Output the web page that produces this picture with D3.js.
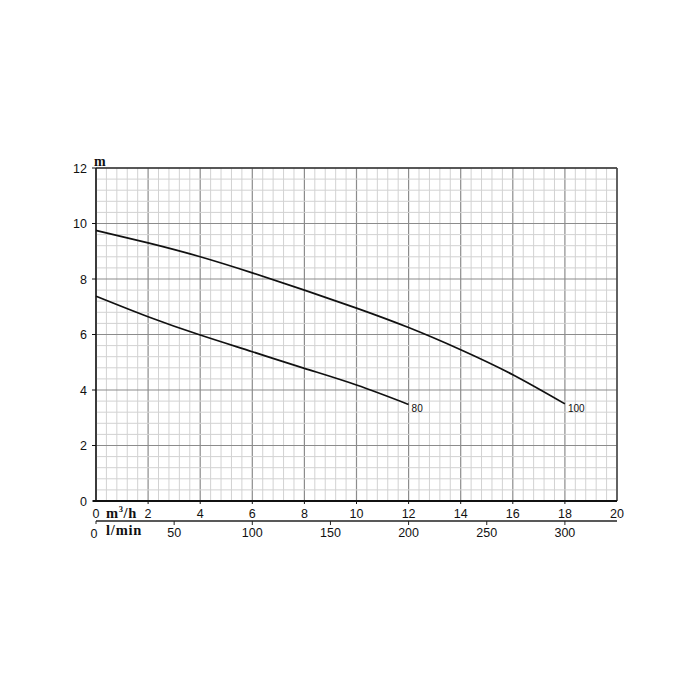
<!DOCTYPE html>
<html><head><meta charset="utf-8">
<script src="https://cdn.jsdelivr.net/npm/d3@7"></script>
<style>body{margin:0;background:#fff}svg{display:block}</style>
</head><body>
<svg id="c" width="700" height="700"></svg>
<script>
// Data (flow m³/h, head m)
const flow100 = [0, 2, 4, 6, 8, 10, 12, 14, 16, 18];
const head100 = [9.75, 9.3, 8.8, 8.22, 7.6, 6.95, 6.25, 5.45, 4.55, 3.5];
const flow80 = [0, 2, 4, 6, 8, 10, 12];
const head80 = [7.38, 6.64, 5.98, 5.38, 4.78, 4.18, 3.48];
const curveLabels = ["100", "80"];
const xTicks = [0, 2, 4, 6, 8, 10, 12, 14, 16, 18, 20];
const yTicks = [0, 2, 4, 6, 8, 10, 12];
const lminTicks = [50, 100, 150, 200, 250, 300];

const svg = d3.select("#c");
const x = d3.scaleLinear().domain([0, 20]).range([96, 617]);
const y = d3.scaleLinear().domain([0, 12]).range([501, 168]);
const xl = d3.scaleLinear().domain([0, 20 * 1000 / 60]).range([96, 617]);

const g = svg.append("g");
d3.range(0, 20.01, 0.4).forEach(v => {
  const major = Math.abs(v / 2 - Math.round(v / 2)) < 1e-6;
  g.append("line").attr("x1", x(v)).attr("x2", x(v)).attr("y1", y(0)).attr("y2", y(12))
    .attr("stroke", major ? "#8c8c8c" : "#d2d2d2").attr("stroke-width", major ? 1.2 : 1);
});
d3.range(0, 12.01, 0.4).forEach(v => {
  const major = Math.abs(v / 2 - Math.round(v / 2)) < 1e-6;
  g.append("line").attr("x1", x(0)).attr("x2", x(20)).attr("y1", y(v)).attr("y2", y(v))
    .attr("stroke", major ? "#8c8c8c" : "#d2d2d2").attr("stroke-width", major ? 1.2 : 1);
});
svg.append("line").attr("x1", x(0)).attr("x2", x(20)).attr("y1", y(12)).attr("y2", y(12)).attr("stroke", "#333").attr("stroke-width", 1.5);
svg.append("line").attr("x1", x(20)).attr("x2", x(20)).attr("y1", y(12)).attr("y2", y(0)).attr("stroke", "#444").attr("stroke-width", 1.5);
svg.append("line").attr("x1", x(0)).attr("x2", x(0)).attr("y1", y(12)).attr("y2", y(0)).attr("stroke", "#111").attr("stroke-width", 1.5);
svg.append("line").attr("x1", x(0) - 3).attr("x2", x(20)).attr("y1", y(0)).attr("y2", y(0)).attr("stroke", "#111").attr("stroke-width", 1.8);

yTicks.forEach(v => {
  svg.append("line").attr("x1", x(0) - 4).attr("x2", x(0)).attr("y1", y(v)).attr("y2", y(v)).attr("stroke", "#111");
  svg.append("text").attr("x", 87).attr("y", y(v) + 4.5).attr("text-anchor", "end")
    .attr("font-family", "Liberation Sans, Arial, sans-serif").attr("font-size", 12.5).attr("fill", "#111").text(v);
});
svg.append("text").attr("x", 94).attr("y", 166).attr("font-family", "Liberation Serif, Times New Roman, serif")
  .attr("font-weight", "bold").attr("font-size", 14).attr("fill", "#111").text("m");

xTicks.forEach(v => {
  if (v > 0 && v < 20) svg.append("line").attr("x1", x(v)).attr("x2", x(v)).attr("y1", y(0)).attr("y2", y(0) + 3).attr("stroke", "#111");
  svg.append("text").attr("x", x(v)).attr("y", 518).attr("text-anchor", "middle")
    .attr("font-family", "Liberation Sans, Arial, sans-serif").attr("font-size", 12.5).attr("fill", "#111").text(v);
});
const mh = svg.append("text").attr("x", 106).attr("y", 518).attr("font-family", "Liberation Serif, Times New Roman, serif")
  .attr("font-weight", "bold").attr("font-size", 14.5).attr("letter-spacing", 0.6).attr("fill", "#111");
mh.append("tspan").text("m");
mh.append("tspan").attr("font-size", 8.5).attr("dy", -6).text("3");
mh.append("tspan").attr("dy", 6).text("/h");

svg.append("line").attr("x1", xl(0)).attr("x2", xl(20 * 1000 / 60)).attr("y1", 521).attr("y2", 521).attr("stroke", "#222").attr("stroke-width", 1.4);
svg.append("line").attr("x1", xl(0)).attr("x2", xl(0)).attr("y1", 521).attr("y2", 524).attr("stroke", "#222");
lminTicks.forEach(v => {
  svg.append("line").attr("x1", xl(v)).attr("x2", xl(v)).attr("y1", 521).attr("y2", 525).attr("stroke", "#222");
  svg.append("text").attr("x", xl(v)).attr("y", 537).attr("text-anchor", "middle")
    .attr("font-family", "Liberation Sans, Arial, sans-serif").attr("font-size", 12.5).attr("fill", "#111").text(v);
});
svg.append("text").attr("x", 94).attr("y", 538).attr("text-anchor", "middle")
  .attr("font-family", "Liberation Sans, Arial, sans-serif").attr("font-size", 12.5).attr("fill", "#111").text(0);
svg.append("text").attr("x", 106).attr("y", 535).attr("font-family", "Liberation Serif, Times New Roman, serif")
  .attr("font-weight", "bold").attr("font-size", 14.5).attr("letter-spacing", 0.8).attr("fill", "#111").text("l/min");

const line = d3.line().x(d => x(d[0])).y(d => y(d[1])).curve(d3.curveNatural);
const series = [d3.zip(flow100, head100), d3.zip(flow80, head80)];
series.forEach((s, i) => {
  svg.append("path").attr("d", line(s)).attr("fill", "none").attr("stroke", "#111").attr("stroke-width", 1.7);
  const last = s[s.length - 1];
  svg.append("text").attr("x", x(last[0]) + 3).attr("y", y(last[1]) + 8)
    .attr("font-family", "Liberation Sans, Arial, sans-serif").attr("font-size", 10).attr("fill", "#111").text(curveLabels[i]);
});
</script>
</body></html>
